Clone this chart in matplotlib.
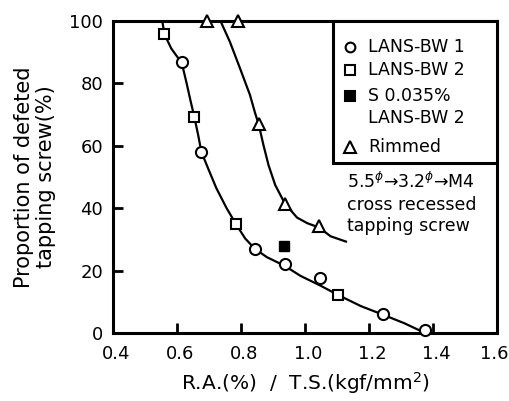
import matplotlib
matplotlib.use("Agg")
import matplotlib.pyplot as plt
import matplotlib.transforms as mtransforms
from matplotlib.patches import Rectangle

# measured points
bw1_x = [0.615, 0.676, 0.844, 0.937, 1.046, 1.243, 1.374]
bw1_y = [87, 58, 27, 22, 17.5, 6.2, 1]
bw2_x = [0.559, 0.654, 0.785, 1.103]
bw2_y = [95.8, 69.3, 34.8, 12.2]
s035_x = [0.935]
s035_y = [28]
rim_x = [0.695, 0.79, 0.855, 0.937, 1.044]
rim_y = [100, 100, 67, 41.5, 34.2]

# hand-drawn guide curves
low_cx = [0.555, 0.561, 0.582, 0.615, 0.629, 0.643, 0.654, 0.666, 0.676, 0.697,
          0.723, 0.755, 0.785, 0.813, 0.844, 0.881, 0.937, 0.986, 1.046, 1.103,
          1.175, 1.243, 1.311, 1.369]
low_cy = [99.3, 95.7, 91.2, 86.5, 80.5, 74.1, 69.3, 63.5, 58.1, 52.8,
          46.4, 40.0, 34.8, 30.3, 26.9, 24.3, 21.5, 18.3, 15.3, 12.2,
          8.6, 5.9, 3.1, 0.3]
up_cx = [0.739, 0.765, 0.797, 0.828, 0.844, 0.855, 0.87, 0.886, 0.907, 0.937,
         0.975, 1.007, 1.044, 1.08, 1.128]
up_cy = [99.3, 93.4, 84.8, 76.3, 70.5, 67.0, 60.3, 53.8, 47.4, 41.5,
         37.0, 35.2, 33.8, 31.0, 29.3]

xticks = [0.4, 0.6, 0.8, 1.0, 1.2, 1.4, 1.6]
yticks = [0, 20, 40, 60, 80, 100]

plt.rcParams['font.family'] = ['DejaVu Sans']
fig = plt.figure(figsize=(5.10, 4.01), dpi=100)
ax = fig.add_axes([0.2216, 0.1696, 0.7529, 0.778])

ax.plot(low_cx, low_cy, color='black', lw=1.6, zorder=2)
ax.plot(up_cx, up_cy, color='black', lw=1.6, zorder=2)

mk = dict(linestyle='none', markerfacecolor='white', markeredgecolor='black',
          markeredgewidth=1.5, zorder=3, clip_on=False)
ax.plot(bw1_x, bw1_y, marker='o', markersize=8, **mk)
ax.plot(bw2_x, bw2_y, marker='s', markersize=7, **mk)
ax.plot(rim_x, rim_y, marker='^', markersize=9, **mk)
ax.plot(s035_x, s035_y, marker='s', markersize=7.5, linestyle='none',
        color='black', zorder=3)

ax.set_xlim(0.4, 1.6)
ax.set_ylim(0, 100)
ax.set_xticks(xticks)
ax.set_xticklabels([f"{v:.1f}" for v in xticks])
ax.set_yticks(yticks)
ax.tick_params(direction='in', length=7, width=2, labelsize=13, pad=7)
ax.tick_params(axis='x', pad=9)
xlabs = ax.get_xticklabels()
for i, lab in enumerate(xlabs):
    dx = 3 if i < len(xlabs) - 1 else -3
    shift = mtransforms.ScaledTranslation(dx / 100, 0, fig.dpi_scale_trans)
    lab.set_transform(lab.get_transform() + shift)
for s in ax.spines.values():
    s.set_linewidth(2.2)

ax.set_xlabel('R.A.(%)  /  T.S.(kgf/mm$^2$)', fontsize=14.5, labelpad=5)
ax.set_ylabel('Proportion of defeted\ntapping screw(%)', fontsize=15,
              labelpad=10, linespacing=1.1)

# legend box drawn by hand (one entry spans two lines)
ax.add_patch(Rectangle((0.573, 0.545), 0.427, 0.455, transform=ax.transAxes,
                       facecolor='white', edgecolor='black', lw=2.2,
                       zorder=4, clip_on=False))
leg_rows = [
    ('o', 'white', 7.0, 'LANS-BW 1', 0.917),
    ('s', 'white', 6.5, 'LANS-BW 2', 0.843),
    ('s', 'black', 7.0, 'S 0.035%', 0.760),
    (None, None, 0, 'LANS-BW 2', 0.689),
    ('^', 'white', 8.5, 'Rimmed', 0.596),
]
for m, fc, ms, text, yy in leg_rows:
    if m is not None:
        ax.plot([0.617], [yy], marker=m, markersize=ms, markerfacecolor=fc,
                markeredgecolor='black', markeredgewidth=1.5,
                transform=ax.transAxes, zorder=5, clip_on=False)
    ax.text(0.664, yy, text, transform=ax.transAxes, fontsize=12.5,
            va='center', ha='left', zorder=5)

ax.text(0.609, 0.518, '5.5$^{\\phi}$→3.2$^{\\phi}$→M4\ncross recessed\ntapping screw',
        transform=ax.transAxes, fontsize=12.5, va='top', ha='left',
        linespacing=1.25)

fig.savefig('out.png', dpi=100)
